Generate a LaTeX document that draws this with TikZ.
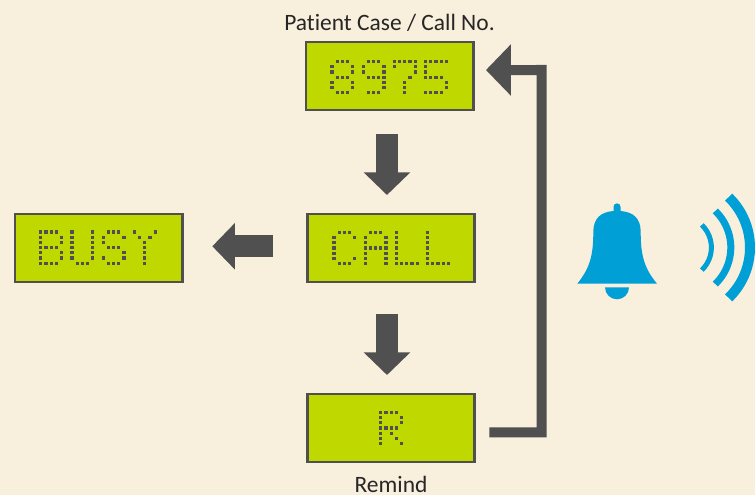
\documentclass[tikz,border=0pt]{standalone}
\usepackage{fontspec}
\setmainfont[Ligatures=NoCommon]{Carlito}
\usetikzlibrary{arrows.meta}
\definecolor{fond}{HTML}{F8EFDC}
\definecolor{lcd}{HTML}{BFD800}
\definecolor{gris}{HTML}{505050}
\definecolor{bleu}{HTML}{009FD6}
\begin{document}
\begin{tikzpicture}[x=0.75pt,y=-0.75pt]
	\tikzstyle{ecran}=[draw=gris,fill=lcd,line width=1.9pt,minimum width=125.6pt,minimum height=51pt,inner sep=0pt,text opacity=0]
	\tikzstyle{fleche}=[-{Triangle[length=17pt,width=34pt]},draw=gris,fill=gris,line width=16.5pt]
	\tikzstyle{retour}=[-{Triangle[length=18.7pt,width=37.5pt]},draw=gris,line width=7.5pt,line join=miter]
	\tikzstyle{etiquette}=[font=\fontsize{17.6}{20}\selectfont,text=black!85,inner sep=0pt,anchor=base]
	\tikzstyle{pixel}=[fill=gris]
	\tikzstyle{onde}=[draw=bleu]
	
	\def\Pas{5.2}
	\def\Glyphe#1#2{\expandafter\def\csname Glyphe#1\endcsname{#2}}
	\def\Mot#1#2#3{%
		\foreach \car [count=\n from 0] in {#3} {
			\edef\liste{\csname Glyphe\car\endcsname}
			\foreach \col/\lig in \liste {
				\fill[pixel] ({#1+\Pas*(6*\n+\col)-1.6},{#2+\Pas*\lig-1.6}) rectangle +(3.2,3.2);
			}
		}
	}
	
	\Glyphe{8}{1/0,2/0,3/0,0/1,4/1,0/2,4/2,1/3,2/3,3/3,0/4,4/4,0/5,4/5,1/6,2/6,3/6}
	\Glyphe{9}{1/0,2/0,3/0,0/1,4/1,0/2,4/2,1/3,2/3,3/3,4/3,4/4,4/5,1/6,2/6,3/6}
	\Glyphe{7}{0/0,1/0,2/0,3/0,4/0,0/1,4/1,4/2,3/3,2/4,2/5,2/6}
	\Glyphe{5}{0/0,1/0,2/0,3/0,4/0,0/1,0/2,0/3,1/3,2/3,3/3,4/4,4/5,0/6,1/6,2/6,3/6}
	\Glyphe{B}{0/0,1/0,2/0,3/0,0/1,4/1,0/2,4/2,0/3,1/3,2/3,3/3,0/4,4/4,0/5,4/5,0/6,1/6,2/6,3/6}
	\Glyphe{U}{0/0,4/0,0/1,4/1,0/2,4/2,0/3,4/3,0/4,4/4,0/5,4/5,1/6,2/6,3/6}
	\Glyphe{S}{1/0,2/0,3/0,0/1,4/1,0/2,1/3,2/3,3/3,4/4,0/5,4/5,1/6,2/6,3/6}
	\Glyphe{Y}{0/0,4/0,1/1,3/1,2/2,2/3,2/4,2/5,2/6}
	\Glyphe{C}{1/0,2/0,3/0,0/1,4/1,0/2,0/3,0/4,0/5,4/5,1/6,2/6,3/6}
	\Glyphe{A}{1/0,2/0,3/0,0/1,4/1,0/2,4/2,0/3,1/3,2/3,3/3,4/3,0/4,4/4,0/5,4/5,0/6,4/6}
	\Glyphe{L}{0/0,0/1,0/2,0/3,0/4,0/5,0/6,1/6,2/6,3/6,4/6}
	\Glyphe{R}{0/0,1/0,2/0,3/0,0/1,4/1,0/2,4/2,0/3,1/3,2/3,3/3,0/4,2/4,0/5,3/5,0/6,4/6}
	
	\fill[fond] (0,0) rectangle (755,495);
	\useasboundingbox (0,0) rectangle (755,495);
	
	\node[ecran] (Cas) at (389.5,75.9) {8975};
	\node[ecran] (Appel) at (391,248) {CALL};
	\node[ecran] (Occupe) at (98.5,248) {BUSY};
	\node[ecran] (Rappel) at (391,428) {R};
	
	\Mot{332}{61.7}{8,9,7,5}
	\Mot{334}{232.3}{C,A,L,L}
	\Mot{40.7}{232}{B,U,S,Y}
	\Mot{380.7}{412.3}{R}
	
	\node[etiquette] (TitreCas) at (389.5,30.7) {Patient Case / Call No.};
	\node[etiquette] (TitreRappel) at (391,492) {Remind};
	
	\coordinate (Coude) at (541.5,70);
	
	\draw[fleche,shorten <=17.5pt,shorten >=13.3pt] ([xshift=-1.9pt]Cas.south) -- ([xshift=-1.9pt]Cas.south |- Appel.north);
	\draw[fleche,shorten <=25pt,shorten >=21.6pt] ([yshift=1.3pt]Appel.west) -- ([yshift=1.3pt]Occupe.east);
	\draw[fleche,shorten <=23pt,shorten >=13.3pt] ([xshift=-3pt]Appel.south) -- ([xshift=-3pt]Rappel.north);
	\draw[retour,shorten <=10pt,shorten >=8.6pt] ([yshift=-3.2pt]Rappel.east) -| (Coude) -- ([yshift=4.4pt]Cas.east);
	
	% cloche
	\fill[bleu] (577.3,283.7) .. controls (590,268) and (593.3,255) .. (593.3,232)
		.. controls (593.3,218) and (601,212) .. (613.5,211) -- (613.5,206.8)
		arc (180:360:3.5) -- (620.5,211)
		.. controls (633,212) and (640.7,218) .. (640.7,232)
		.. controls (640.7,255) and (644,268) .. (657,283.7) -- cycle;
	\fill[bleu] (605,287.3) -- (629,287.3) arc (0:180:12) -- cycle;
	
	% ondes
	\foreach \rayon/\largeur in {31.4/5,50.8/7,70/10} {
		\draw[onde,line width=0.75pt*\largeur] ({680+\rayon*cos(46)},{247.5+\rayon*sin(46)}) arc (46:-46:\rayon);
	}
\end{tikzpicture}
\end{document}
